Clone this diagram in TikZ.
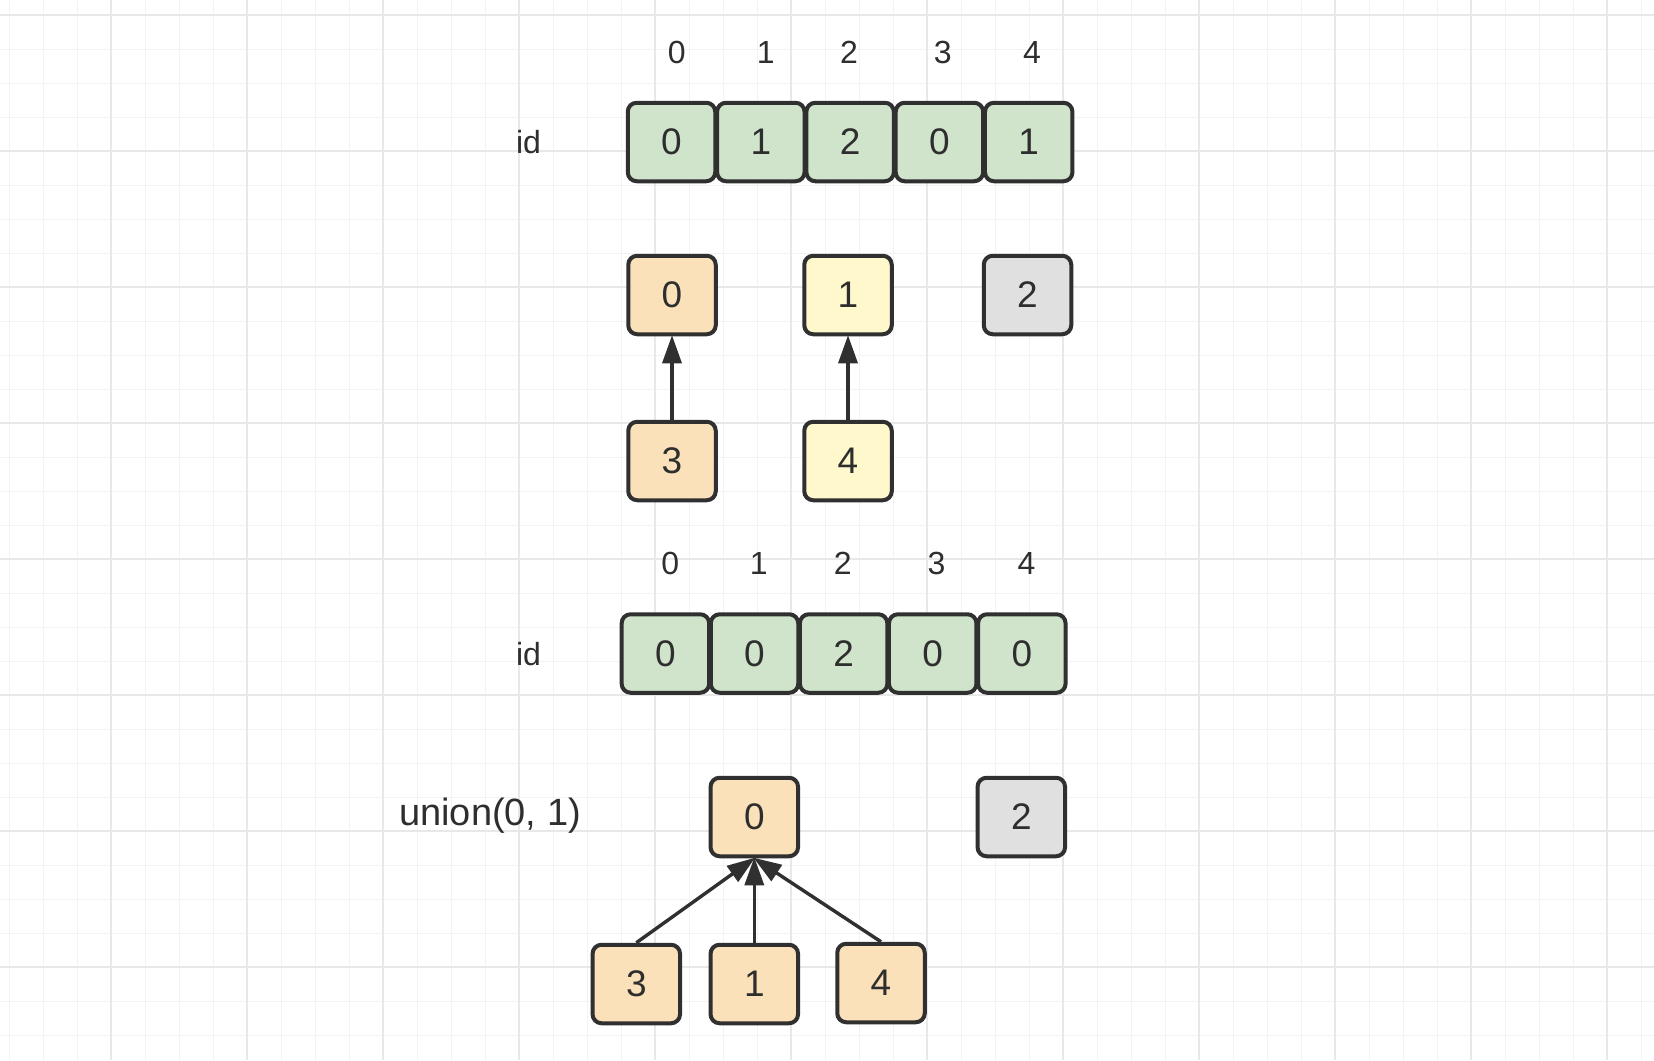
\documentclass[tikz,border=0pt]{standalone}
\usepackage{fontspec}
\setmainfont{Liberation Sans}
\usetikzlibrary{arrows.meta}
\definecolor{inkc}{HTML}{303030}
\definecolor{txtc}{HTML}{2E2E2E}
\definecolor{greenf}{HTML}{CFE4CB}
\definecolor{orangef}{HTML}{FAE1B9}
\definecolor{yellowf}{HTML}{FEF8CC}
\definecolor{grayf}{HTML}{E0E0E0}
\definecolor{gridminor}{HTML}{F3F3F3}
\definecolor{gridmajor}{HTML}{E8E8E8}
\tikzset{
  cell/.style={draw=inkc, line width=4pt, rounded corners=9pt, minimum width=87.5pt, minimum height=78.5pt, inner sep=0pt, text=txtc, font=\fontsize{37}{37}\selectfont},
  gcell/.style={cell, fill=greenf},
  ocell/.style={cell, fill=orangef},
  ycell/.style={cell, fill=yellowf},
  kcell/.style={cell, fill=grayf},
  idx/.style={anchor=base, inner sep=0pt, text=txtc, font=\fontsize{32}{32}\selectfont},
  lbl/.style={anchor=base, inner sep=0pt, text=txtc, font=\fontsize{32}{32}\selectfont},
  arr/.style={draw=inkc, line width=3.4pt, -{Triangle[width=19pt,length=28pt]}, shorten >=-1pt},
}
\begin{document}
\begin{tikzpicture}[x=1pt,y=-1pt]
\useasboundingbox (0,0) rectangle (1654,1060);
\fill[white] (0,0) rectangle (1654,1060);
% grid
\foreach \i in {0,...,48} {
  \draw[gridminor, line width=1pt] ({9+34*\i},0) -- ({9+34*\i},1060);
}
\foreach \j in {0,...,31} {
  \draw[gridminor, line width=1pt] (0,{15+34*\j}) -- (1654,{15+34*\j});
}
\foreach \i in {0,...,12} {
  \draw[gridmajor, line width=2pt] ({111+136*\i},0) -- ({111+136*\i},1060);
}
\foreach \j in {0,...,7} {
  \draw[gridmajor, line width=2pt] (0,{15+136*\j}) -- (1654,{15+136*\j});
}
% top section
\node[idx] (ti0) at (676.7,63.3) {0};
\node[idx] (ti1) at (765.7,63.3) {1};
\node[idx] (ti2) at (849,63.3) {2};
\node[idx] (ti3) at (942.7,63.3) {3};
\node[idx] (ti4) at (1032,63.3) {4};
\node[lbl] (tid) at (528.5,153.3) {id};
\node[gcell] (ta0) at (671.5,142) {0};
\node[gcell] (ta1) at (760.8,142) {1};
\node[gcell] (ta2) at (850.1,142) {2};
\node[gcell] (ta3) at (939.4,142) {0};
\node[gcell] (ta4) at (1028.7,142) {1};
\node[ocell] (r0) at (672,295) {0};
\node[ycell] (r1) at (848,295) {1};
\node[kcell] (r2) at (1027.5,295) {2};
\node[ocell] (c3) at (672,461) {3};
\node[ycell] (c4) at (848,461) {4};
\draw[arr] (c3.north) -- (r0.south);
\draw[arr] (c4.north) -- (r1.south);
% bottom section
\node[idx] (bi0) at (670.2,574.3) {0};
\node[idx] (bi1) at (758.8,574.3) {1};
\node[idx] (bi2) at (842.8,574.3) {2};
\node[idx] (bi3) at (936.5,574.3) {3};
\node[idx] (bi4) at (1026.5,574.3) {4};
\node[lbl] (bid) at (528.5,665) {id};
\node[gcell] (ba0) at (665.4,653.5) {0};
\node[gcell] (ba1) at (754.5,653.5) {0};
\node[gcell] (ba2) at (843.6,653.5) {2};
\node[gcell] (ba3) at (932.7,653.5) {0};
\node[gcell] (ba4) at (1021.8,653.5) {0};
\node[anchor=base west, inner sep=0pt, text=txtc, font=\fontsize{38}{38}\selectfont] (un) at (399,825) {union(0, 1)};
\node[ocell] (p0) at (754.3,817) {0};
\node[kcell] (p2) at (1021.3,817) {2};
\node[ocell] (q3) at (636.3,984) {3};
\node[ocell] (q1) at (754.3,984) {1};
\node[ocell] (q4) at (881,983) {4};
\draw[arr] (q3.north) -- (p0.south);
\draw[arr] (q1.north) -- (p0.south);
\draw[arr] (q4.north) -- (p0.south);
\end{tikzpicture}
\end{document}
